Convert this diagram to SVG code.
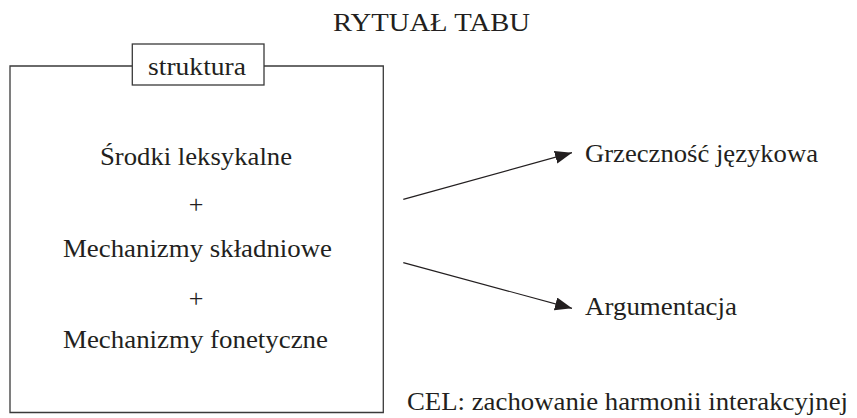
<svg xmlns="http://www.w3.org/2000/svg" width="857" height="418" viewBox="0 0 857 418">
<style>
text { font-family: "Liberation Serif", "DejaVu Serif", serif; font-size: 26px; fill: #231f20; }
.frame { fill: none; stroke: #3a3a3a; stroke-width: 1.3; }
.conn { fill: none; stroke: #231f20; stroke-width: 1.2; }
</style>
<defs>
<marker id="arrow" markerUnits="userSpaceOnUse" markerWidth="18" markerHeight="14" refX="17" refY="6.5" orient="auto">
<path d="M0,0 L17,6.5 L0,13 Z" fill="#231f20"/>
</marker>
</defs>
<rect width="857" height="418" fill="#ffffff"/>
<g id="title">
<text x="333" y="31" textLength="197" lengthAdjust="spacingAndGlyphs">RYTUAŁ TABU</text>
</g>
<g id="struktura-box">
<path class="frame" d="M132,66 H10 V412.5 H383.3 V66 H264"/>
<rect class="frame" x="132.3" y="44" width="131.7" height="41"/>
<text x="148" y="75" textLength="98" lengthAdjust="spacingAndGlyphs">struktura</text>
<text x="100" y="165" textLength="192" lengthAdjust="spacingAndGlyphs">Środki leksykalne</text>
<text x="196" y="213" text-anchor="middle">+</text>
<text x="63" y="257" textLength="269" lengthAdjust="spacingAndGlyphs">Mechanizmy składniowe</text>
<text x="196" y="306.5" text-anchor="middle">+</text>
<text x="63" y="348" textLength="265" lengthAdjust="spacingAndGlyphs">Mechanizmy fonetyczne</text>
</g>
<g id="grzecznosc">
<text x="585" y="162" textLength="233" lengthAdjust="spacingAndGlyphs">Grzeczność językowa</text>
</g>
<g id="argumentacja">
<text x="585" y="315" textLength="152" lengthAdjust="spacingAndGlyphs">Argumentacja</text>
</g>
<g id="cel">
<text x="407" y="410" textLength="441" lengthAdjust="spacingAndGlyphs">CEL: zachowanie harmonii interakcyjnej</text>
</g>
<g id="connectors">
<line class="conn" x1="403.3" y1="199.3" x2="572" y2="152.7" marker-end="url(#arrow)"/>
<line class="conn" x1="403.3" y1="262.7" x2="572" y2="308.3" marker-end="url(#arrow)"/>
</g>
</svg>
